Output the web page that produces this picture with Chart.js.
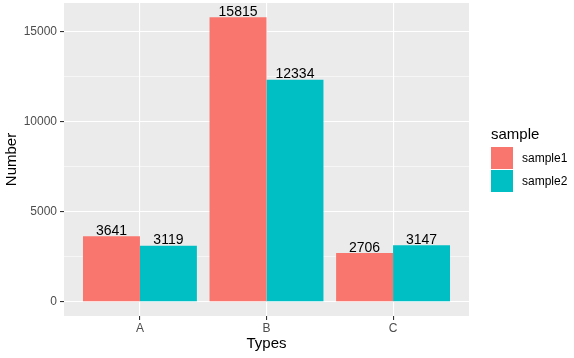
<!DOCTYPE html>
<html>
<head>
<meta charset="utf-8">
<script src="https://cdn.jsdelivr.net/npm/chart.js@4"></script>
<style>
  body { margin: 0; background: #fff; }
  canvas { display: block; }
</style>
</head>
<body>
<canvas id="chart" width="574" height="358"></canvas>
<script>
const categories = ["A", "B", "C"];
const sample1 = [3641, 15815, 2706];
const sample2 = [3119, 12334, 3147];
const yTicks = [0, 2500, 5000, 7500, 10000, 12500, 15000];

const FONT = "'Liberation Sans', Arial, sans-serif";

// ggplot-ish gray panel
const panelBg = {
    id: "panelBg",
    beforeDraw(chart) {
        const { ctx, chartArea: a } = chart;
        ctx.save();
        ctx.fillStyle = "#EBEBEB";
        ctx.fillRect(a.left, a.top, a.right - a.left, a.bottom - a.top);
        ctx.restore();
    }
};

// numbers above the bars
const barLabels = {
    id: "barLabels",
    afterDatasetsDraw(chart) {
        const ctx = chart.ctx;
        ctx.save();
        ctx.font = "14px " + FONT;
        ctx.fillStyle = "#000";
        ctx.textAlign = "center";
        ctx.textBaseline = "alphabetic";
        chart.data.datasets.forEach((ds, i) => {
            chart.getDatasetMeta(i).data.forEach((bar, j) => {
                ctx.fillText(String(ds.data[j].y), bar.x, bar.y - 1.5);
            });
        });
        ctx.restore();
    }
};

// legend on the right like ggplot
const sideLegend = {
    id: "sideLegend",
    afterDraw(chart) {
        const ctx = chart.ctx;
        const x0 = chart.chartArea.right + 22;
        const yTitle = 135;
        ctx.save();
        ctx.textBaseline = "middle";
        ctx.textAlign = "left";
        ctx.fillStyle = "#000";
        ctx.font = "15px " + FONT;
        ctx.fillText("sample", x0, yTitle);
        ctx.font = "12px " + FONT;
        chart.data.datasets.forEach((ds, i) => {
            const top = 147 + i * 23;
            ctx.fillStyle = ds.backgroundColor;
            ctx.fillRect(x0, top, 22, 22);
            ctx.fillStyle = "#000";
            ctx.fillText(ds.label, x0 + 31, top + 11.5);
        });
        ctx.restore();
    }
};

new Chart(document.getElementById("chart"), {
    type: "bar",
    data: {
        datasets: [
            { label: "sample1", backgroundColor: "#F8766D",
              data: categories.map((c, i) => ({ x: i + 1, y: sample1[i] })) },
            { label: "sample2", backgroundColor: "#00BFC4",
              data: categories.map((c, i) => ({ x: i + 1, y: sample2[i] })) }
        ]
    },
    options: {
        responsive: false,
        animation: false,
        layout: { padding: { top: 3, right: 105, left: 0, bottom: 0 } },
        categoryPercentage: 0.9,
        barPercentage: 1.0,
        plugins: { legend: { display: false }, tooltip: { enabled: false } },
        scales: {
            x: {
                type: "linear",
                min: 0.4,
                max: 3.6,
                offset: false,
                afterBuildTicks: s => { s.ticks = categories.map((c, i) => ({ value: i + 1 })); },
                afterFit: s => { s.height = 42; s.paddingLeft = 0; s.paddingRight = 0; },
                border: { display: false },
                grid: { offset: false, color: "#FFFFFF", lineWidth: 1.1, tickColor: "#333333", tickLength: 4 },
                ticks: {
                    font: { family: FONT, size: 12 }, color: "#4D4D4D", padding: 1,
                    callback: v => categories[v - 1]
                },
                title: { display: true, text: "Types", color: "#000",
                         font: { family: FONT, size: 15 }, padding: { top: 0, bottom: 5 } }
            },
            y: {
                min: -790.75,
                max: 16605.75,
                afterBuildTicks: s => { s.ticks = yTicks.map(v => ({ value: v })); },
                afterFit: s => { s.width = 64; s.paddingTop = 0; s.paddingBottom = 0; },
                border: { display: false },
                grid: {
                    color: "#FFFFFF",
                    lineWidth: c => (c.tick && c.tick.value % 5000 === 0) ? 1.1 : 0.55,
                    tickColor: c => (c.tick && c.tick.value % 5000 === 0) ? "#333333" : "rgba(0,0,0,0)",
                    tickLength: 4
                },
                ticks: {
                    font: { family: FONT, size: 12 }, color: "#4D4D4D", padding: 3,
                    callback: v => (v % 5000 === 0 ? String(v) : "")
                },
                title: { display: true, text: "Number", color: "#000",
                         font: { family: FONT, size: 15 }, padding: { top: 3, bottom: 0 } }
            }
        }
    },
    plugins: [panelBg, barLabels, sideLegend]
});
</script>
</body>
</html>
